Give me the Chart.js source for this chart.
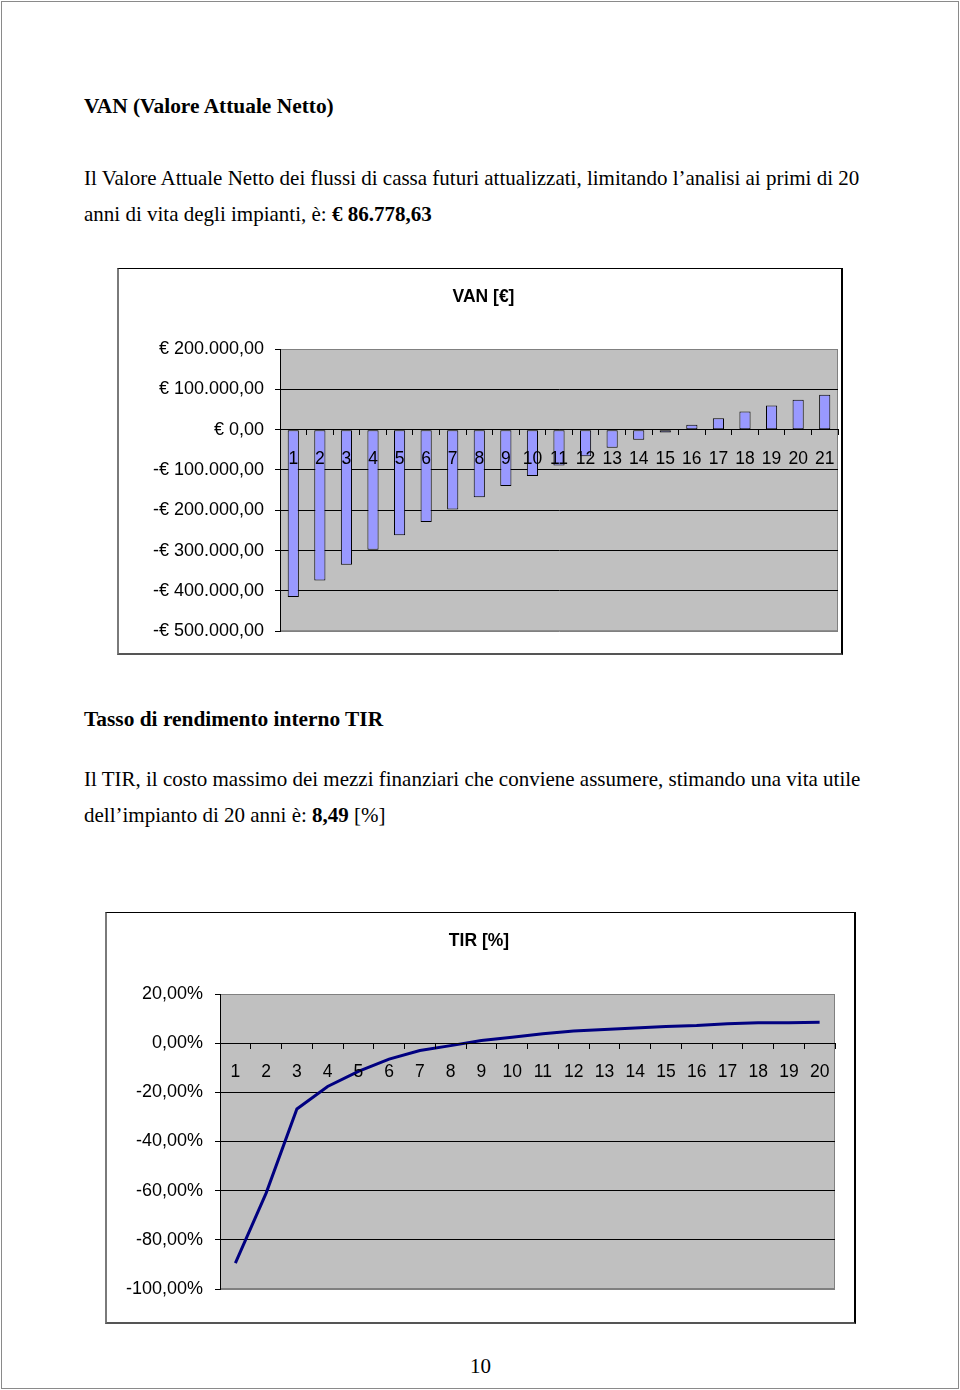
<!DOCTYPE html>
<html>
<head>
<meta charset="utf-8">
<script src="https://cdn.jsdelivr.net/npm/chart.js@4.4.0/dist/chart.umd.min.js"></script>
<style>
  html, body { margin: 0; padding: 0; background: #fff; }
  body { width: 960px; height: 1390px; position: relative; overflow: hidden; }
  .page { position: absolute; left: 1px; top: 1px; width: 956px; height: 1386px; border: 1px solid #8a8a8a; }
  .txt { position: absolute; left: 84px; font-family: 'Liberation Serif', 'Times New Roman', serif; font-size: 21px; line-height: 36px; color: #000; white-space: nowrap; }
  .txt.h { font-size: 21.4px; font-weight: bold; }
  .frame { position: absolute; background: #fff; border-top: 1px solid #000; border-left: 2px solid #7a7a7a; border-right: 2px solid #000; border-bottom: 2px solid #555; }
  .frame div { position: relative; }
</style>
</head>
<body>
<div class="page"></div>

<div class="txt h" style="top:88px">VAN (Valore Attuale Netto)</div>
<div class="txt" style="top:160px">Il Valore Attuale Netto dei flussi di cassa futuri attualizzati, limitando l’analisi ai primi di 20<br>anni di vita degli impianti, è: <b>€ 86.778,63</b></div>

<div class="frame" style="left:117px; top:268px;">
  <div style="width:722px; height:384px;"><canvas id="vanChart"></canvas></div>
</div>

<div class="txt h" style="top:701px">Tasso di rendimento interno TIR</div>
<div class="txt" style="top:761px">Il TIR, il costo massimo dei mezzi finanziari che conviene assumere, stimando una vita utile<br>dell’impianto di 20 anni è: <b>8,49</b> [%]</div>

<div class="frame" style="left:105px; top:912px;">
  <div style="width:747px; height:409px;"><canvas id="tirChart"></canvas></div>
</div>

<div class="txt" style="top:1348px; left:470px;">10</div>

<script>
// VAN chart: cumulative discounted cash flow per year
const vanYears = ['1','2','3','4','5','6','7','8','9','10','11','12','13','14','15','16','17','18','19','20','21'];
const vanValues = [-415000, -374000, -335000, -298000, -262000, -229000, -198000, -168000, -140000, -115000,
                   -89000, -66000, -45000, -25000, -7000, 12000, 28000, 45000, 60000, 74000, 86778.63];
const vanTicks = { min: -500000, max: 200000, step: 100000 };

// TIR chart: internal rate of return in %
const tirYears = ['1','2','3','4','5','6','7','8','9','10','11','12','13','14','15','16','17','18','19','20'];
const tirValues = [-89.5, -61.0, -26.8, -17.6, -11.5, -6.5, -3.0, -1.0, 1.1, 2.4,
                   3.8, 4.9, 5.6, 6.2, 6.8, 7.2, 7.9, 8.3, 8.3, 8.49];
const tirTicks = { min: -100, max: 20, step: 20 };

const sans = 'Liberation Sans, Arial, sans-serif';

function groupIt(n) {
    const fixed = Math.abs(n).toFixed(2).split('.');
    const int = fixed[0].replace(/\B(?=(\d{3})+(?!\d))/g, '.');
    return int + ',' + fixed[1];
}
const euro = v => (v < 0 ? '-€ ' : '€ ') + groupIt(v);
const pct = v => (v < 0 ? '-' : '') + groupIt(v) + '%';

const plotBg = {
    id: 'plotBg',
    beforeDraw(chart) {
        const { ctx, chartArea: a } = chart;
        ctx.save();
        ctx.fillStyle = '#c0c0c0';
        ctx.fillRect(a.left, a.top, a.width, a.height);
        ctx.strokeStyle = '#808080';
        ctx.lineWidth = 1;
        ctx.strokeRect(a.left + 0.5, a.top + 0.5, a.width - 1, a.height - 1);
        ctx.restore();
    },
};

function yScale(range, fmt, width, pad) {
    return {
        min: range.min,
        max: range.max,
        afterFit: s => { s.width = width; },
        grid: {
            color: c => (c.tick && (c.tick.value === range.max || c.tick.value === range.min)) ? '#808080' : '#000',
            tickColor: '#000',
            tickLength: 5,
            lineWidth: 1,
        },
        border: { color: '#000', width: 1 },
        ticks: {
            stepSize: range.step,
            padding: pad,
            color: '#000',
            font: { family: sans, size: 18 },
            callback: v => fmt(v),
        },
    };
}

// category axis crossing at zero, labels drawn over the marks like Excel does
function xScale() {
    return {
        position: { y: 0 },
        offset: true,
        afterFit: s => { s.paddingLeft = 0; s.paddingRight = 0; },
        grid: { display: true, drawOnChartArea: false, drawTicks: true, tickLength: 5, color: '#000', offset: true, z: 1 },
        border: { color: '#000', width: 1, z: 1 },
        ticks: { z: 1, padding: 14, color: '#000', font: { family: sans, size: 17.5 }, maxRotation: 0, autoSkip: false },
    };
}

function titleOpts(text, bottom) {
    return {
        display: true,
        text: text,
        color: '#000',
        font: { family: sans, size: 17.5, weight: 'bold' },
        padding: { top: 17.5, bottom: bottom },
    };
}

new Chart(document.getElementById('vanChart'), {
    type: 'bar',
    data: {
        labels: vanYears,
        datasets: [{
            data: vanValues,
            backgroundColor: '#9999ff',
            borderColor: '#000',
            borderWidth: 1,
            borderSkipped: false,
            barPercentage: 0.42,
            categoryPercentage: 1,
        }],
    },
    options: {
        responsive: true,
        maintainAspectRatio: false,
        animation: false,
        layout: { padding: { left: 10, right: 3, top: 0, bottom: 21 } },
        scales: {
            x: xScale(),
            y: yScale(vanTicks, euro, 151, 11),
        },
        plugins: {
            legend: { display: false },
            tooltip: { enabled: false },
            title: titleOpts('VAN [€]', 41.5),
        },
    },
    plugins: [plotBg],
});

new Chart(document.getElementById('tirChart'), {
    type: 'line',
    data: {
        labels: tirYears,
        datasets: [{
            data: tirValues,
            borderColor: '#000080',
            borderWidth: 3,
            pointRadius: 0,
            tension: 0,
            fill: false,
        }],
    },
    options: {
        responsive: true,
        maintainAspectRatio: false,
        animation: false,
        layout: { padding: { left: 16, right: 19, top: 0, bottom: 33 } },
        scales: {
            x: xScale(),
            y: yScale(tirTicks, pct, 97, 12),
        },
        plugins: {
            legend: { display: false },
            tooltip: { enabled: false },
            title: titleOpts('TIR [%]', 42.5),
        },
    },
    plugins: [plotBg],
});
</script>
</body>
</html>
